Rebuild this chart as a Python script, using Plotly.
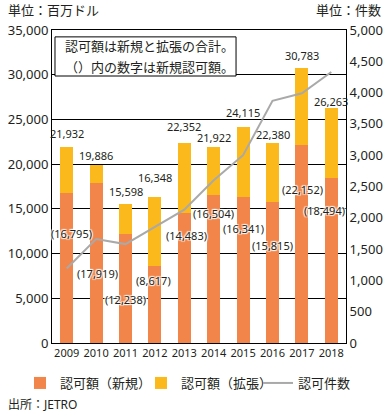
import plotly.graph_objects as go

years = [2009, 2010, 2011, 2012, 2013, 2014, 2015, 2016, 2017, 2018]
total_amount = [21932, 19886, 15598, 16348, 22352, 21922, 24115, 22380, 30783, 26263]
new_amount = [16795, 17919, 12238, 8617, 14483, 16504, 16341, 15815, 22152, 18494]
license_count = [1190, 1660, 1580, 1850, 2130, 2600, 3000, 3870, 3990, 4330]
expansion_amount = [t - n for t, n in zip(total_amount, new_amount)]

# label placement (layout only)
total_label_shift = [12, 9, 11, 18, 16, 8, 14, 7, 11, 6]
new_label_pos = [12200, 7800, 4900, 7000, 12000, 14500, 12750, 10850, 17200, 14850]
new_label_xshift = [5, 1, 0, -1, 2, 0, 0, 0, 1, -7]

ORANGE = "#F2854A"
YELLOW = "#FBB91C"
GRAY = "#A9A9A9"
TXT = "#231F20"
FONT = "Noto Sans, Noto Sans CJK JP"
HALO = "1px 1px 1px #fff, -1px -1px 1px #fff, 1px -1px 1px #fff, -1px 1px 1px #fff"

fig = go.Figure()
fig.add_trace(go.Bar(x=years, y=new_amount, name="認可額（新規）", legend="legend",
                     marker=dict(color=ORANGE, line=dict(width=0)), width=0.44))
fig.add_trace(go.Bar(x=years, y=expansion_amount, name="認可額（拡張）", legend="legend2",
                     marker=dict(color=YELLOW, line=dict(width=0)), width=0.44))
fig.add_trace(go.Scatter(x=years, y=license_count, name="認可件数", yaxis="y2", legend="legend3",
                         mode="lines", line=dict(color=GRAY, width=2)))

annotations = []
for i, y in enumerate(years):
    annotations.append(dict(x=y, y=total_amount[i], xref="x", yref="y",
                            text=f"{total_amount[i]:,}", showarrow=False,
                            yanchor="middle", yshift=total_label_shift[i] + 1,
                            font=dict(size=11, color=TXT, family=FONT)))
    annotations.append(dict(x=y, y=new_label_pos[i], xref="x", yref="y",
                            text=f"({new_amount[i]:,})", showarrow=False,
                            yanchor="middle", xshift=new_label_xshift[i],
                            font=dict(size=11, color=TXT, family=FONT, shadow=HALO)))

annotations += [
    dict(x=0.037, y=0.949, xref="paper", yref="paper", xanchor="left", yanchor="middle",
         text="認可額は新規と拡張の合計。", showarrow=False,
         font=dict(size=13, color=TXT, family=FONT)),
    dict(x=0.037, y=0.882, xref="paper", yref="paper", xanchor="left", yanchor="middle",
         text="（）内の数字は新規認可額。", showarrow=False,
         font=dict(size=13, color=TXT, family=FONT)),
    dict(x=-0.155, y=1.065, xref="paper", yref="paper", xanchor="left", yanchor="middle",
         text="単位：百万ドル", showarrow=False, font=dict(size=13, color=TXT, family=FONT)),
    dict(x=1.125, y=1.065, xref="paper", yref="paper", xanchor="right", yanchor="middle",
         text="単位：件数", showarrow=False, font=dict(size=13, color=TXT, family=FONT)),
    dict(x=-0.155, y=-0.198, xref="paper", yref="paper", xanchor="left", yanchor="middle",
         text="出所：JETRO", showarrow=False, font=dict(size=12, color=TXT, family=FONT)),
]


def leg(xpx):
    return dict(orientation="h", x=xpx / 392, xanchor="left", y=1 - 383 / 418, yanchor="middle",
                xref="container", yref="container",
                font=dict(size=13, color=TXT, family=FONT),
                itemwidth=30, bgcolor="rgba(0,0,0,0)")


fig.update_layout(
    width=392, height=418,
    margin=dict(l=52, r=46, t=30, b=75),
    paper_bgcolor="white", plot_bgcolor="white",
    barmode="stack",
    font=dict(family=FONT, color=TXT),
    showlegend=True,
    legend=leg(20), legend2=leg(141), legend3=leg(258),
    xaxis=dict(range=[2008.5, 2018.5], tickvals=years, showline=True, linecolor="black",
               linewidth=1, mirror=True, tickfont=dict(size=11, color=TXT), ticks="",
               showgrid=False, zeroline=False, automargin=False),
    yaxis=dict(range=[0, 35000], dtick=5000, tickformat=",", showgrid=True,
               gridcolor="black", gridwidth=1, showline=True, linecolor="black",
               tickfont=dict(size=13, color=TXT), ticks="", zeroline=False, automargin=False),
    yaxis2=dict(range=[0, 5000], dtick=500, tickformat=",", overlaying="y", side="right",
                showgrid=False, showline=True, linecolor="black", automargin=False,
                tickfont=dict(size=13, color=TXT), ticks="", zeroline=False),
    shapes=[dict(type="rect", xref="paper", yref="paper", x0=0.0102, x1=0.626,
                 y0=0.853, y1=0.978, line=dict(color="black", width=1),
                 fillcolor="white", layer="above")],
    annotations=annotations,
)

fig.write_html("out.html", config={"displayModeBar": False},
               post_script="document.body.style.margin='0';document.body.style.padding='0';")
